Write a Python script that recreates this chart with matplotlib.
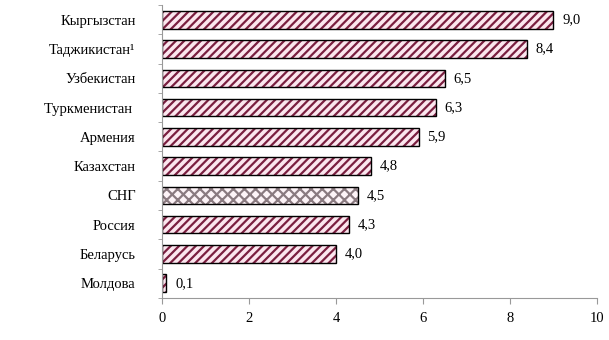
import numpy as np
import matplotlib
matplotlib.use("Agg")
import matplotlib.pyplot as plt

countries = ["Кыргызстан", "Таджикистан¹", "Узбекистан", "Туркменистан ", "Армения",
             "Казахстан", "СНГ", "Россия", "Беларусь", "Молдова"]
values = [9.0, 8.4, 6.5, 6.3, 5.9, 4.8, 4.5, 4.3, 4.0, 0.1]
value_labels = ["9,0", "8,4", "6,5", "6,3", "5,9", "4,8", "4,5", "4,3", "4,0", "0,1"]
x_ticks = [0, 2, 4, 6, 8, 10]

plt.rcParams['font.family'] = ['Liberation Serif', 'DejaVu Serif']
plt.rcParams['hatch.linewidth'] = 1.6

fig = plt.figure(figsize=(6.09, 3.40), dpi=100)
ax = fig.add_axes([0.266, 0.124, 0.714, 0.861])

pos = np.arange(len(countries))
for i, (c, v) in enumerate(zip(countries, values)):
    if c == "СНГ":
        hcol = '#8a7a80'
        hatch = 'xxx'
        face = '#fdf3f7'
    else:
        hcol = '#7a1f40'
        hatch = '////'
        face = '#fbe6ee'
    b = ax.barh(pos[i], v, height=0.6, color=face, edgecolor='black',
                linewidth=1.0, hatch=hatch)
    b[0]._hatch_color = matplotlib.colors.to_rgba(hcol)
    ax.text(v + 0.2, pos[i], value_labels[i], va='center', ha='left', fontsize=10.5)

ax.set_ylim(len(countries) - 0.5, -0.5)
ax.set_xlim(0, 10)
ax.set_yticks(pos)
ax.set_yticklabels(countries, fontsize=10.5)
ax.set_xticks(x_ticks)
ax.set_xticklabels([str(t) for t in x_ticks], fontsize=10.5)
ax.tick_params(axis='y', length=0, pad=19)
ax.set_yticks(np.arange(-0.5, len(countries)), minor=True)
ax.tick_params(axis='y', which='minor', length=3, color='#999999')
ax.tick_params(axis='x', length=4, color='#999999', pad=6)

for s in ['top', 'right']:
    ax.spines[s].set_visible(False)
for s in ['left', 'bottom']:
    ax.spines[s].set_color('#999999')
    ax.spines[s].set_linewidth(0.8)

fig.savefig("out.png", dpi=100)
